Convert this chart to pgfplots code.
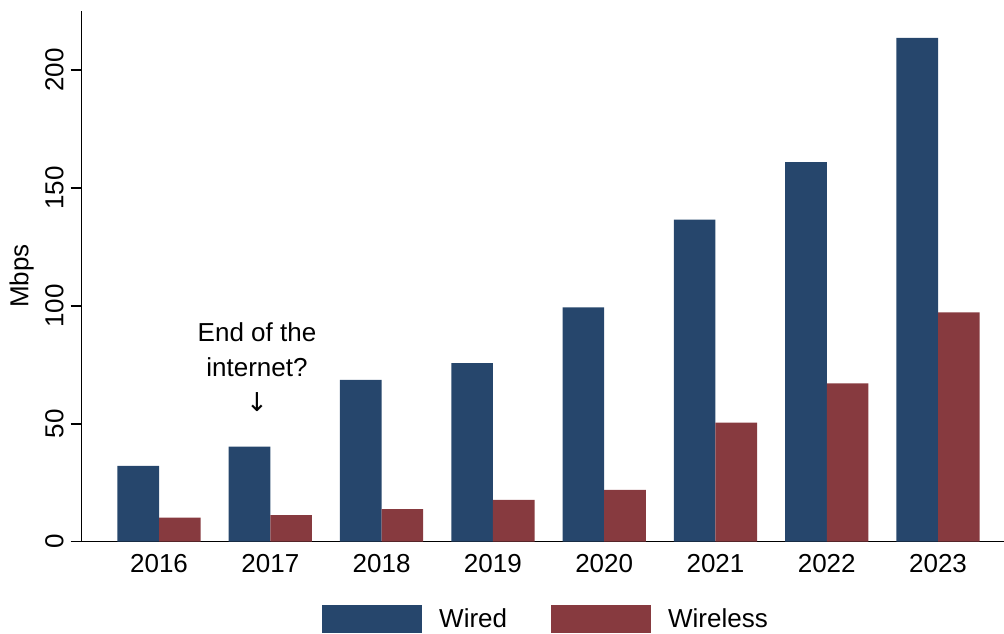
\documentclass[border=0pt]{standalone}
\usepackage{fontspec}
\setmainfont{Liberation Sans}
\newfontfamily\arrowfont{DejaVu Sans}
\usepackage{pgfplots}
\pgfplotsset{compat=1.18}
\definecolor{wired}{HTML}{26466C}
\definecolor{wireless}{HTML}{873A3F}
\newcommand{\lbl}{\fontsize{13}{15.6}\selectfont}
\begin{document}
\begin{tikzpicture}
\useasboundingbox (-40.85pt,-45.65pt) rectangle (461.15pt,270.85pt);
\begin{axis}[
  at={(0pt,0pt)}, anchor=south west,
  scale only axis,
  width=461.15pt, height=265.5pt,
  xmin=-0.695, xmax=7.593,
  ymin=0, ymax=225.2,
  axis x line=bottom, axis y line=left,
  axis line style={-, line width=0.75pt, black},
  ybar=0pt, bar width=0.374,
  xtick=data,
  xticklabels={2016,2017,2018,2019,2020,2021,2022,2023},
  x tick style={draw=none},
  ytick={0,50,100,150,200},
  y tick style={line width=0.75pt, black},
  tick align=outside,
  major tick length=5.5pt,
  minor tick num=0,
  /pgf/number format/assume math mode=true,
  tick label style={font=\lbl},
  xticklabel style={yshift=2.5pt},
  yticklabel style={rotate=90, anchor=south},
  ylabel={Mbps},
  ylabel style={font=\lbl, at={(axis description cs:-0.065,0.5)}, anchor=center, rotate=0},
  legend style={draw=none, font=\lbl, legend columns=2,
    at={(axis description cs:0.502,-0.118)}, anchor=north,
    inner sep=0pt, outer sep=0pt,
    /tikz/every odd column/.append style={column sep=8.8pt},
    /tikz/every even column/.append style={column sep=21.7pt},
    nodes={inner xsep=0pt}},
  legend image code/.code={\fill[#1] (0pt,-7pt) rectangle (50pt,7pt);},
  clip=false,
]
\addplot[fill=wired, draw=none] coordinates {(0,32.2) (1,40.3) (2,68.6) (3,75.7) (4,99.4) (5,136.6) (6,161.0) (7,213.7)};
\addplot[fill=wireless, draw=none] coordinates {(0,10.2) (1,11.3) (2,13.8) (3,17.7) (4,22.0) (5,50.5) (6,67.1) (7,97.3)};
\legend{Wired,Wireless}
\node[align=center, font=\fontsize{13}{17.5}\selectfont] at (axis cs:0.88,81.6) {End of the\\internet?};
\node[font=\arrowfont\fontsize{13}{15.6}\selectfont] at (axis cs:0.88,59.2) {↓};
\end{axis}
\end{tikzpicture}
\end{document}
